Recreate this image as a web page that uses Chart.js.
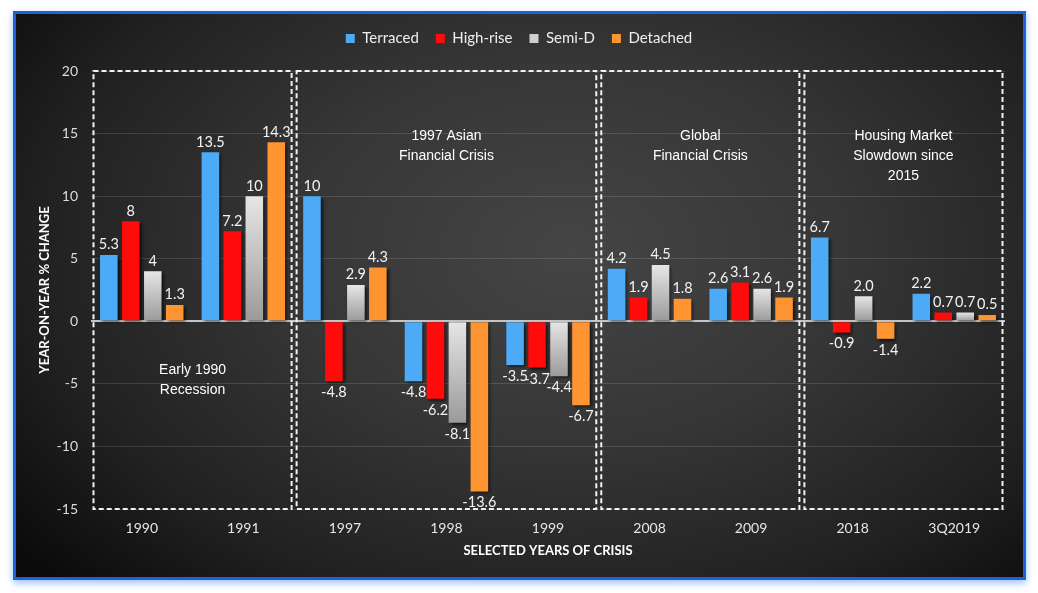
<!DOCTYPE html>
<html>
<head>
<meta charset="utf-8">
<script src="https://cdn.jsdelivr.net/npm/chart.js@4.4.0/dist/chart.umd.min.js"></script>
<style>
  html, body { margin:0; padding:0; background:#fff; width:1038px; height:593px; overflow:hidden; }
  #frame {
    position:absolute; left:13px; top:11px; width:1007px; height:563px;
    border:3px solid #1e62d6;
    box-shadow:0 3px 7px rgba(70,140,240,0.55);
    background:radial-gradient(ellipse 70% 85% at 55% 42%, #454545 0%, #363636 40%, #212121 75%, #0b0b0b 100%);
  }
  #wrap { position:absolute; left:0; top:0; width:1038px; height:593px; }
</style>
</head>
<body>
<div id="frame"></div>
<div id="wrap"><canvas id="crisis"></canvas></div>
<script>
// years picked out for each crisis
const categories = ['1990', '1991', '1997', '1998', '1999', '2008', '2009', '2018', '3Q2019']

// yoy % change per housing type
const terraced = [5.3, 13.5, 10, -4.8, -3.5, 4.2, 2.6, 6.7, 2.2]
const highRise = [8, 7.2, -4.8, -6.2, -3.7, 1.9, 3.1, -0.9, 0.7]
const semiD    = [4, 10, 2.9, -8.1, -4.4, 4.5, 2.6, 2.0, 0.7]
const detached = [1.3, 14.3, 4.3, -13.6, -6.7, 1.8, 1.9, -1.4, 0.5]

const seriesNames = ['Terraced', 'High-rise', 'Semi-D', 'Detached']
const yMin = -15
const yMax = 20
const yStep = 5

// these two show the trailing .0 in the labels (2.0 etc)
const oneDecimalCats = ['2018', '3Q2019']

// dashed boxes: first + last category of each crisis
const crisisFrom = ['1990', '1997', '2008', '2018']
const crisisTo   = ['1991', '1999', '2009', '3Q2019']
const crisisText = [
  ['Early 1990', 'Recession'],
  ['1997 Asian', 'Financial Crisis'],
  ['Global', 'Financial Crisis'],
  ['Housing Market', 'Slowdown since', '2015']
]

const BLUE = '#4caaf7'
const RED = '#ff0b0b'
const ORANGE = '#ff9432'
const legendColors = [BLUE, RED, '#cfcfcf', ORANGE]

// grey bars get a light->dark fade, per bar
function greyFade(c) {
  const chart = c.chart
  if (!chart.chartArea || c.type !== 'data') return '#c8c8c8'
  const y = chart.scales.y
  const v = c.raw
  const top = y.getPixelForValue(Math.max(v, 0))
  const bot = y.getPixelForValue(Math.min(v, 0))
  const g = chart.ctx.createLinearGradient(0, top, 0, bot + 0.01)
  g.addColorStop(0, '#e6e6e6')
  g.addColorStop(1, '#9a9a9a')
  return g
}

function fmt(v, cat) {
  return oneDecimalCats.includes(cat) ? v.toFixed(1) : String(v)
}

// legend needs a bit more room under it, push the plot down
const legendGap = {
  id: 'legendGap',
  beforeInit(chart) {
    const origFit = chart.legend.fit
    chart.legend.fit = function () {
      origFit.bind(chart.legend)()
      this.height += 15
    }
  }
}

// dashed boxes + crisis captions, drawn under the bars
const crisisBoxes = {
  id: 'crisisBoxes',
  beforeDatasetsDraw(chart) {
    const { ctx, scales: { x, y } } = chart
    const half = (x.getPixelForValue(1) - x.getPixelForValue(0)) / 2
    const top = y.getPixelForValue(yMax)
    const bottom = y.getPixelForValue(yMin)
    ctx.save()
    ctx.strokeStyle = '#f2f2f2'
    ctx.lineWidth = 2
    ctx.setLineDash([5, 3])
    crisisFrom.forEach((from, i) => {
      const l = x.getPixelForValue(categories.indexOf(from)) - half + 2.5
      const r = x.getPixelForValue(categories.indexOf(crisisTo[i])) + half - 2.5
      ctx.strokeRect(l, top, r - l, bottom - top)
    })
    ctx.setLineDash([])

    // captions - centre of each box, early 1990 sits down low
    ctx.fillStyle = '#ffffff'
    ctx.font = '14px "Liberation Sans", Arial, sans-serif'
    ctx.textAlign = 'center'
    ctx.textBaseline = 'middle'
    crisisText.forEach((lines, i) => {
      const a = categories.indexOf(crisisFrom[i])
      const b = categories.indexOf(crisisTo[i])
      const cx = (x.getPixelForValue(a) + x.getPixelForValue(b)) / 2
      const cy = i === 0 ? y.getPixelForValue(-3.9) : y.getPixelForValue(14.8)
      lines.forEach((t, k) => ctx.fillText(t, cx, cy + k * 20))
    })
    ctx.restore()
  }
}

// drop shadow on the bars
const barShadow = {
  id: 'barShadow',
  beforeDatasetsDraw(chart) {
    const ctx = chart.ctx
    ctx.save()
    ctx.shadowColor = 'rgba(0,0,0,0.65)'
    ctx.shadowBlur = 3
    ctx.shadowOffsetX = 2
    ctx.shadowOffsetY = 2
  },
  afterDatasetsDraw(chart) {
    chart.ctx.restore()
  }
}

// value labels above (or under) each bar
const valueLabels = {
  id: 'valueLabels',
  afterDatasetsDraw(chart) {
    const ctx = chart.ctx
    ctx.save()
    ctx.fillStyle = '#f2f2f2'
    ctx.font = '14.5px Lato, "Open Sans", sans-serif'
    ctx.textAlign = 'center'
    chart.data.datasets.forEach((ds, di) => {
      const meta = chart.getDatasetMeta(di)
      meta.data.forEach((bar, i) => {
        const v = ds.data[i]
        const txt = fmt(v, categories[i])
        if (v >= 0) {
          ctx.textBaseline = 'bottom'
          ctx.fillText(txt, bar.x, bar.y - 3)
        } else {
          ctx.textBaseline = 'top'
          ctx.fillText(txt, bar.x, bar.y + 4)
        }
      })
    })
    ctx.restore()
  }
}

document.addEventListener('DOMContentLoaded', () => {
  const ctx = document.getElementById('crisis').getContext('2d')

  new Chart(ctx, {
    type: 'bar',
    data: {
      labels: categories,
      datasets: [
        { label: seriesNames[0], data: terraced, backgroundColor: BLUE },
        { label: seriesNames[1], data: highRise, backgroundColor: RED },
        { label: seriesNames[2], data: semiD, backgroundColor: greyFade },
        { label: seriesNames[3], data: detached, backgroundColor: ORANGE }
      ]
    },
    options: {
      responsive: true,
      maintainAspectRatio: false,
      animation: false,
      datasets: {
        bar: { categoryPercentage: 0.865, barPercentage: 0.8, borderWidth: 0 }
      },
      layout: { padding: { top: 14, right: 0, bottom: 0, left: 0 } },
      scales: {
        x: {
          grid: { display: false },
          border: { display: false },
          ticks: { color: '#e6e6e6', padding: 3, font: { family: 'Lato', size: 14 } },
          title: {
            display: true,
            text: 'SELECTED YEARS OF CRISIS',
            color: '#ffffff',
            font: { family: 'Lato', size: 13, weight: 'bold' },
            padding: { top: 0, bottom: 34 }
          },
          afterFit(scale) { scale.height = 84 }
        },
        y: {
          min: yMin,
          max: yMax,
          ticks: { stepSize: yStep, color: '#dcdcdc', padding: 13, font: { family: 'Lato', size: 14 } },
          grid: {
            drawTicks: false,
            color: c => c.tick.value === 0 ? '#c4c4c4' : 'rgba(255,255,255,0.13)',
            lineWidth: c => c.tick.value === 0 ? 2 : 1
          },
          border: { display: false },
          title: {
            display: true,
            text: 'YEAR-ON-YEAR % CHANGE',
            color: '#ffffff',
            font: { family: 'Lato', size: 13, weight: 'bold' },
            padding: { top: 37, bottom: 0 }
          },
          afterFit(scale) { scale.width = 91 }
        },
        // empty axis on the right, just keeps the plot off the frame edge
        // (and lets the legend centre on the whole canvas)
        yRight: {
          position: 'right',
          grid: { display: false },
          border: { display: false },
          ticks: { display: false },
          afterFit(scale) { scale.width = 33 }
        }
      },
      plugins: {
        legend: {
          position: 'top',
          labels: {
            color: '#eeeeee',
            boxWidth: 9,
            boxHeight: 9,
            padding: 17,
            font: { family: 'Lato', size: 15 },
            generateLabels(chart) {
              const items = Chart.defaults.plugins.legend.labels.generateLabels(chart)
              items.forEach((it, i) => {
                it.fillStyle = legendColors[i]
                it.strokeStyle = legendColors[i]
                it.lineWidth = 0
              })
              return items
            }
          }
        },
        tooltip: { enabled: false }
      }
    },
    plugins: [legendGap, crisisBoxes, barShadow, valueLabels]
  })
})
</script>
</body>
</html>
